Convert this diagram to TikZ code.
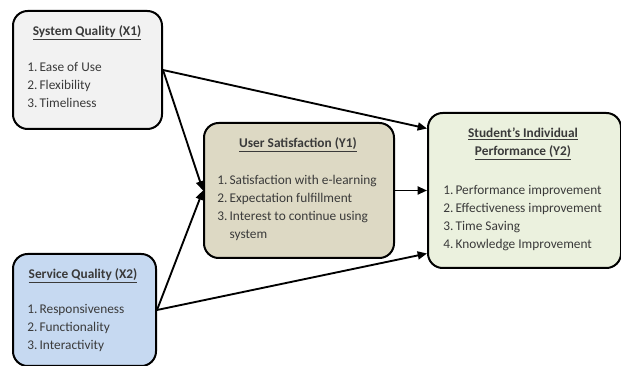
\documentclass[tikz,border=0pt]{standalone}
\usepackage{fontspec}
\setmainfont{Carlito}
\usetikzlibrary{arrows.meta,calc}
\definecolor{txt}{HTML}{3A3A3A}
\definecolor{fillA}{HTML}{F2F2F2}
\definecolor{fillB}{HTML}{C6D9F1}
\definecolor{fillC}{HTML}{DDD9C4}
\definecolor{fillD}{HTML}{EBF1DE}
\newcommand{\hd}[1]{\textbf{\underline{#1}}}
\tikzset{
  varbox/.style={draw=black, line width=1.5pt, rounded corners=11pt, anchor=north west, inner sep=0pt},
  head/.style={text=txt, font=\fontsize{10}{13.5}\selectfont, align=center},
  items/.style={text=txt, font=\fontsize{10}{13.5}\selectfont, align=left, anchor=north west, inner sep=0pt},
  link/.style={line width=1.4pt, -{Triangle[length=7pt,width=6pt]}}
}
\begin{document}
\begin{tikzpicture}[x=0.75pt,y=-0.75pt]
\useasboundingbox (0,0) rectangle (621,366);
% variable boxes
\node[varbox, fill=fillA, minimum width=149*0.75pt, minimum height=118*0.75pt] (x1) at (12,10) {};
\node[varbox, fill=fillB, minimum width=143*0.75pt, minimum height=112*0.75pt] (x2) at (12,253) {};
\node[varbox, fill=fillC, minimum width=190*0.75pt, minimum height=135*0.75pt] (y1) at (203,122) {};
\node[varbox, fill=fillD, minimum width=193*0.75pt, minimum height=155*0.75pt] (y2) at (427,112) {};
% headings
\node[head] (x1h) at (87,33) {\hd{System Quality (X1)}};
\node[head] (x2h) at (83,276) {\hd{Service Quality (X2)}};
\node[head] (y1h) at (298,145) {\hd{User Satisfaction (Y1)}};
\node[head] (y2h) at (523,144) {\hd{Student’s Individual}\\\hd{Performance (Y2)}};
% indicator lists
\node[items] (x1l) at (27,62) {1.\,Ease of Use\\2.\,Flexibility\\3.\,Timeliness};
\node[items] (x2l) at (27,304) {1.\,Responsiveness\\2.\,Functionality\\3.\,Interactivity};
\node[items] (y1l) at (217,175) {1.\,Satisfaction with e-learning\\2.\,Expectation fulfillment\\3.\,Interest to continue using\\\phantom{3.\,}system};
\node[items] (y2l) at (443,185) {1.\,Performance improvement\\2.\,Effectiveness improvement\\3.\,Time Saving\\4.\,Knowledge Improvement};
% paths
\draw[link] (x1.east) -- ($(y2.west)+(0,-62)$);
\draw[link] (x1.east) -- (y1.west);
\draw[link] (x2.east) -- (y1.west);
\draw[link] (x2.east) -- ($(y2.west)+(0,63)$);
\draw[link] (y1.east) -- (y2.west);
\end{tikzpicture}
\end{document}
